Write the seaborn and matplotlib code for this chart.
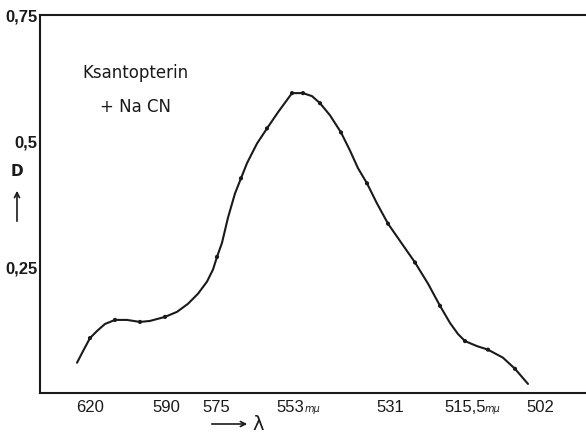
import matplotlib
matplotlib.use("Agg")
import matplotlib.pyplot as plt
import seaborn as sns
import pandas as pd

# Hand-drawn wavelength axis: tick positions (drawing units) and labels
tick_pos = [90, 166, 216, 290, 390, 465, 540]
tick_labels = ["620", "590", "575", "553", "531", "515,5", "502"]

# Curve (x in drawing units, D = optical density)
curve_x = [77, 83, 90, 97, 105, 115, 127, 140, 150, 165, 177, 188, 198, 207,
           213, 217, 222, 228, 235, 241, 247, 257, 267, 278, 292, 303, 312,
           320, 330, 341, 350, 358, 367, 377, 388, 402, 415, 428, 440, 450,
           458, 465, 477, 488, 503, 515, 528]
curve_d = [0.060, 0.083, 0.109, 0.123, 0.137, 0.145, 0.145, 0.141, 0.143,
           0.151, 0.161, 0.177, 0.197, 0.221, 0.245, 0.270, 0.298, 0.348,
           0.396, 0.426, 0.456, 0.495, 0.525, 0.557, 0.595, 0.595, 0.589,
           0.575, 0.551, 0.517, 0.481, 0.446, 0.416, 0.376, 0.336, 0.296,
           0.259, 0.217, 0.173, 0.139, 0.117, 0.103, 0.093, 0.086, 0.070,
           0.048, 0.018]

# Measured points marked on the curve
dot_x = [90, 115, 140, 165, 217, 241, 267, 292, 303, 320, 341, 367, 388,
         415, 440, 465, 488, 515]
dot_d = [0.109, 0.145, 0.141, 0.151, 0.270, 0.426, 0.525, 0.595, 0.595,
         0.575, 0.517, 0.416, 0.336, 0.259, 0.173, 0.103, 0.086, 0.048]

y_ticks = [0.25, 0.5, 0.75]
y_labels = ["0,25", "0,5", "0,75"]

df = pd.DataFrame({"x": curve_x, "D": curve_d})
dots = pd.DataFrame({"x": dot_x, "D": dot_d})

sns.set_style("white")
plt.rcParams["font.family"] = ["DejaVu Sans"]
ink = "#1a1a1a"
tickfont = ["Liberation Sans", "DejaVu Sans"]

fig = plt.figure(figsize=(5.86, 4.33), dpi=100)
ax = fig.add_axes([40 / 586, 40 / 433, 546 / 586, 378 / 433])

sns.lineplot(data=df, x="x", y="D", ax=ax, color=ink, linewidth=1.5,
             sort=False)
sns.scatterplot(data=dots, x="x", y="D", ax=ax, color=ink, s=9,
                edgecolor="none", zorder=3)

ax.set_xlim(40, 586)
ax.set_ylim(0, 0.75)

ax.set_xticks(tick_pos)
ax.set_xticklabels(tick_labels, fontsize=12, family=tickfont)
ax.set_yticks(y_ticks)
ax.set_yticklabels(y_labels, fontsize=12, fontweight="bold", family=tickfont)
ax.tick_params(axis="x", direction="in", length=5, width=1.2, pad=5,
               colors=ink)
ax.tick_params(axis="y", direction="in", length=5, width=1.2, pad=2,
               colors=ink)

for s in ["left", "bottom", "top"]:
    ax.spines[s].set_color(ink)
    ax.spines[s].set_linewidth(1.5)
ax.spines["right"].set_visible(False)

ax.set_xlabel("")
ax.set_ylabel("")

# small unit marks after two tick labels
ax.text(305, -0.022, "mμ", fontsize=7, style="italic", ha="left",
        va="top", color=ink, clip_on=False)
ax.text(485, -0.022, "mμ", fontsize=7, style="italic", ha="left",
        va="top", color=ink, clip_on=False)

# axis names
fig.text(17 / 586, 1 - 172 / 433, "D", fontsize=11, fontweight="bold",
         ha="center", va="center", color=ink)
fig.patches.append(matplotlib.patches.FancyArrowPatch(
    (17 / 586, 1 - 224 / 433), (17 / 586, 1 - 188 / 433),
    transform=fig.transFigure, arrowstyle="->", mutation_scale=9,
    color=ink, linewidth=1.2))
fig.patches.append(matplotlib.patches.FancyArrowPatch(
    (209 / 586, 1 - 424 / 433), (250 / 586, 1 - 424 / 433),
    transform=fig.transFigure, arrowstyle="->", mutation_scale=9,
    color=ink, linewidth=1.2))
fig.text(252 / 586, 1 - 424 / 433, "λ", fontsize=14, ha="left",
         va="center", color=ink)

# annotation
ax.text(82, 0.635, "Ksantopterin", fontsize=12, ha="left", va="center",
        color=ink)
ax.text(100, 0.567, "+ Na CN", fontsize=12, ha="left", va="center",
        color=ink)

fig.savefig("out.png", dpi=100)
